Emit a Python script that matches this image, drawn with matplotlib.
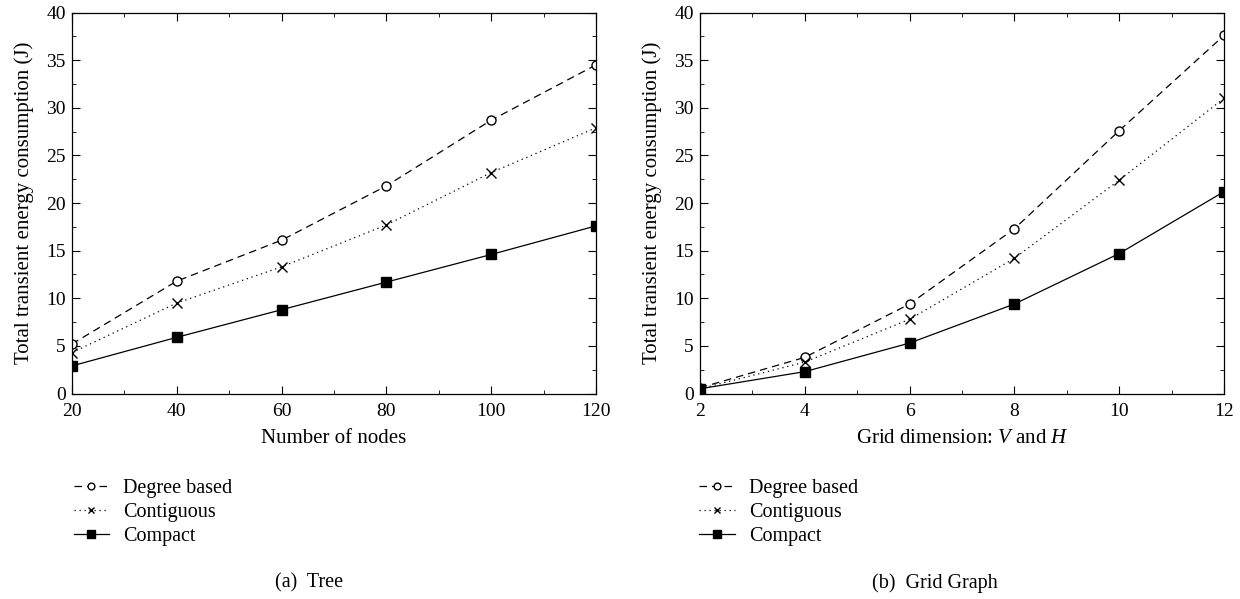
import matplotlib.pyplot as plt
from matplotlib.ticker import MultipleLocator

plt.rcParams['font.family'] = ['Liberation Serif', 'DejaVu Serif']
plt.rcParams['mathtext.fontset'] = 'custom'
plt.rcParams['mathtext.it'] = 'Liberation Serif:italic'
plt.rcParams['mathtext.rm'] = 'Liberation Serif'

# tree
tree_nodes = [20, 40, 60, 80, 100, 120]
tree_degree = [5.2, 11.8, 16.1, 21.8, 28.7, 34.5]
tree_contig = [4.3, 9.5, 13.3, 17.7, 23.2, 27.9]
tree_compact = [2.9, 5.9, 8.8, 11.7, 14.6, 17.6]

# grid graph
grid_dim = [2, 4, 6, 8, 10, 12]
grid_degree = [0.6, 3.8, 9.4, 17.3, 27.6, 37.6]
grid_contig = [0.5, 3.3, 7.8, 14.2, 22.4, 31.0]
grid_compact = [0.5, 2.3, 5.3, 9.4, 14.7, 21.2]

series_names = ['Degree based', 'Contiguous', 'Compact']


def drawPanel(ax, x, degree, contig, compact, xlabel, xmajor, xminor):
    ax.plot(x, degree, color='black', linestyle=(0, (6, 4)), linewidth=0.9,
            marker='o', markersize=6.5, markerfacecolor='white', markeredgewidth=1.0,
            label=series_names[0])
    ax.plot(x, contig, color='black', linestyle=(0, (1, 3)), linewidth=0.9,
            marker='x', markersize=6.5, markeredgewidth=1.0, label=series_names[1])
    ax.plot(x, compact, color='black', linestyle='-', linewidth=0.9,
            marker='s', markersize=7, markerfacecolor='black', label=series_names[2])
    ax.set_xlim(x[0], x[-1])
    ax.set_ylim(0, 40)
    ax.xaxis.set_major_locator(MultipleLocator(xmajor))
    ax.xaxis.set_minor_locator(MultipleLocator(xminor))
    ax.yaxis.set_major_locator(MultipleLocator(5))
    ax.yaxis.set_minor_locator(MultipleLocator(2.5))
    ax.tick_params(which='both', direction='in', top=True, right=True, labelsize=14)
    ax.tick_params(which='major', length=6, width=0.8)
    ax.tick_params(which='minor', length=3, width=0.6)
    ax.tick_params(axis='x', which='major', pad=7)
    ax.tick_params(axis='y', which='major', pad=4.5)
    for s in ax.spines.values():
        s.set_linewidth(0.9)
    ax.set_xlabel(xlabel, fontsize=15, labelpad=6)
    ax.set_ylabel('Total transient energy consumption (J)', fontsize=15, labelpad=8.5)


fig = plt.figure(figsize=(12.4, 5.99), dpi=100)
axA = fig.add_axes([0.058, 0.343, 0.4226, 0.636])
axB = fig.add_axes([0.5645, 0.343, 0.4226, 0.636])

drawPanel(axA, tree_nodes, tree_degree, tree_contig, tree_compact,
          'Number of nodes', 20, 10)
drawPanel(axB, grid_dim, grid_degree, grid_contig, grid_compact,
          r'Grid dimension: $V$ and $H$', 2, 1)

for ax, lx in [(axA, 0.0593), (axB, 0.564)]:
    h, l = ax.get_legend_handles_labels()
    fig.legend(h, l, loc='upper left', bbox_to_anchor=(lx, 0.2003), frameon=False,
               fontsize=14.5, handlelength=1.77, handletextpad=0.7, labelspacing=0.23,
               borderpad=0, borderaxespad=0, markerscale=0.75)

fig.text(0.249, 0.0267, '(a)  Tree', ha='center', va='center', fontsize=14.5)
fig.text(0.754, 0.0267, '(b)  Grid Graph', ha='center', va='center', fontsize=14.5)

plt.savefig('out.png', dpi=100)
